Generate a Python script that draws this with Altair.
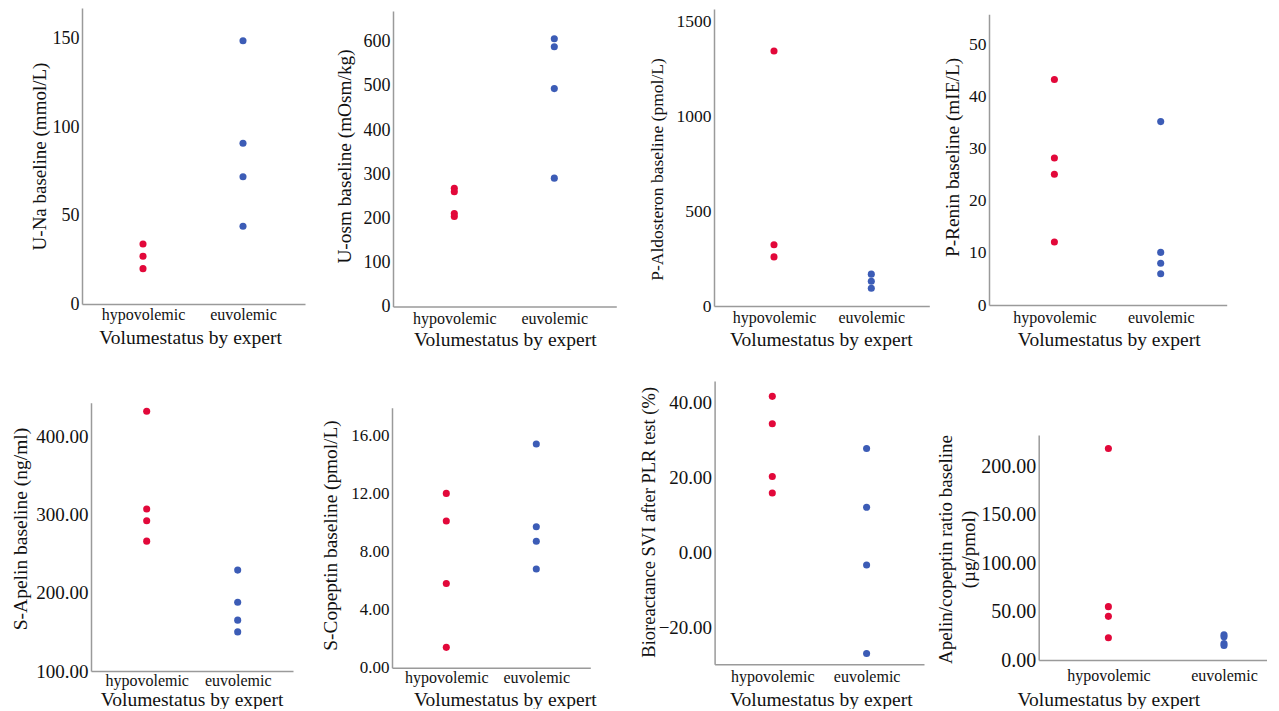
import altair as alt
import pandas as pd

# ---------------- data ----------------
categories = ["hypovolemic", "euvolemic"]
x_title = "Volumestatus by expert"

una_hypo = [34, 27, 20]
una_eu = [149, 91, 72, 44]
uosm_hypo = [268, 260, 211, 204]
uosm_eu = [607, 589, 494, 291]
aldo_hypo = [1345, 323, 259]
aldo_eu = [168, 131, 94]
renin_hypo = [43.3, 28.2, 25.1, 12.1]
renin_eu = [35.2, 10.1, 8.0, 6.0]
apelin_hypo = [432, 307, 292, 266]
apelin_eu = [229, 188, 165, 150]
copeptin_hypo = [12.0, 10.1, 5.8, 1.4]
copeptin_eu = [15.4, 9.7, 8.7, 6.8]
svi_hypo = [41.7, 34.4, 20.3, 15.9]
svi_eu = [27.8, 12.1, -3.3, -26.9]
ratio_hypo = [218, 55, 45, 23]
ratio_eu = [26, 24, 17, 15]

y_titles = [
    "U-Na baseline (mmol/L)",
    "U-osm baseline (mOsm/kg)",
    "P-Aldosteron baseline (pmol/L)",
    "P-Renin baseline (mIE/L)",
    "S-Apelin baseline (ng/ml)",
    "S-Copeptin baseline (pmol/L)",
    "Bioreactance SVI after PLR test (%)",
    ["Apelin/copeptin ratio baseline", "(\u00b5g/pmol)"],
]
y_ticks = [
    [0, 50, 100, 150],
    [0, 100, 200, 300, 400, 500, 600],
    [0, 500, 1000, 1500],
    [0, 10, 20, 30, 40, 50],
    [100, 200, 300, 400],
    [0, 4, 8, 12, 16],
    [-20, 0, 20, 40],
    [0, 50, 100, 150, 200],
]
y_domains = [
    [0, 167.5], [0, 670], [0, 1567], [0, 55.8],
    [100, 443], [0, 17.9], [-29.8, 45.8], [0, 232],
]
y_formats = ["d", "d", "d", "d", ".2f", ".2f", ".2f", ".2f"]
series = [
    (una_hypo, una_eu), (uosm_hypo, uosm_eu), (aldo_hypo, aldo_eu),
    (renin_hypo, renin_eu), (apelin_hypo, apelin_eu),
    (copeptin_hypo, copeptin_eu), (svi_hypo, svi_eu), (ratio_hypo, ratio_eu),
]

# ---------------- layout (page pixel coordinates) ----------------
RED = "#E2083A"
BLUE = "#3C5CB6"
FONT = "Liberation Serif"

# plot box: left, top, right, bottom ; category centres
boxes = [
    (82, 7, 305, 303, 143, 243),
    (392.7, 10, 616, 305.5, 454, 554),
    (712.7, 8, 928, 305, 772.7, 870),
    (987.3, 13.3, 1225, 304, 1052.7, 1159),
    (91, 401.7, 293, 670, 146.7, 237.7),
    (391.7, 406.7, 590, 666.7, 446, 536),
    (713.3, 380, 922.7, 663.3, 771, 865.3),
    (1037, 434, 1265, 659, 1106.7, 1222.3),
]
label_cy = [313, 317.3, 316.7, 316.7, 679.5, 676.7, 675, 674.3]
xtitle_c = [(190, 336.7), (504.5, 338.3), (819.5, 338.3), (1107, 338.3),
            (191.5, 698), (504.5, 698), (819.5, 698), (1106.7, 698)]
ytitle_c = [(39.5, 155), (344, 155), (656, 168), (950.5, 156),
            (20, 527.5), (330, 534), (647.5, 520.8), (944, 548)]
ytitle_size = [19, 19.3, 17.5, 19.3, 19.5, 19.3, 18.5, 19]
ylabel_size = [18, 18, 17.5, 17.5, 19, 17, 19, 20]

col_left = [min(boxes[c][0], boxes[c + 4][0]) for c in range(4)]
row_top = [min(b[1] for b in boxes[:4]), min(b[1] for b in boxes[4:])]
col_w = [col_left[1] - col_left[0], col_left[2] - col_left[1],
         col_left[3] - col_left[2],
         max(boxes[3][2], boxes[7][2]) - col_left[3]]
row_h = [row_top[1] - row_top[0], max(b[3] for b in boxes[4:]) - row_top[1]]


def panel(i):
    l, t, r, b, hx, ex = boxes[i]
    c, rr = i % 4, i // 4
    L, T, W, H = col_left[c], row_top[rr], col_w[c], row_h[rr]
    R = r - l
    step = ex - hx
    pad = (R / step - 1) / 2
    align = (hx - l) / (R - step)
    hypo, eu = series[i]
    df = pd.DataFrame({
        "group": [categories[0]] * len(hypo) + [categories[1]] * len(eu),
        "value": list(hypo) + list(eu),
    })
    xaxis = alt.Axis(
        title=x_title, labelAngle=0, offset=-(T + H - b),
        labelBaseline="middle", labelPadding=label_cy[i] - b,
        labelFontSize=16, titleFontSize=19.5,
        titleX=xtitle_c[i][0] - L, titleY=xtitle_c[i][1] - b,
        titleBaseline="middle", titleAlign="center",
    )
    yaxis = alt.Axis(
        title=y_titles[i], values=y_ticks[i], format=y_formats[i],
        offset=-(l - L), labelPadding=3, labelFontSize=ylabel_size[i],
        titleFontSize=ytitle_size[i], titleX=ytitle_c[i][0] - l,
        titleY=ytitle_c[i][1] - T, titleBaseline="middle",
        titleAlign="center", titleLineHeight=23, labelOverlap=False,
    )
    return alt.Chart(df).mark_circle(size=50, opacity=1).encode(
        x=alt.X("group:N", sort=categories, axis=xaxis,
                scale=alt.Scale(type="point", domain=categories,
                                range=[l - L, r - L], padding=pad,
                                align=align)),
        y=alt.Y("value:Q", axis=yaxis,
                scale=alt.Scale(domain=y_domains[i], nice=False, zero=False,
                                range=[b - T, t - T])),
        color=alt.Color("group:N", legend=None,
                        scale=alt.Scale(domain=categories, range=[RED, BLUE])),
    ).properties(width=W, height=H)


chart = alt.concat(
    *[panel(i) for i in range(8)], columns=4, spacing=0, bounds="flush"
).properties(
    padding={"left": 2, "top": 0, "right": 0, "bottom": 0},
    background="white",
).configure_view(strokeWidth=0).configure_axis(
    labelFont=FONT, titleFont=FONT, titleFontWeight="normal",
    labelColor="#111111", titleColor="#111111",
    grid=False, ticks=False, tickSize=0,
    domainColor="#9a9a9a", domainWidth=1.5,
)

chart.save("out.html", embed_options={"renderer": "svg", "actions": False})
